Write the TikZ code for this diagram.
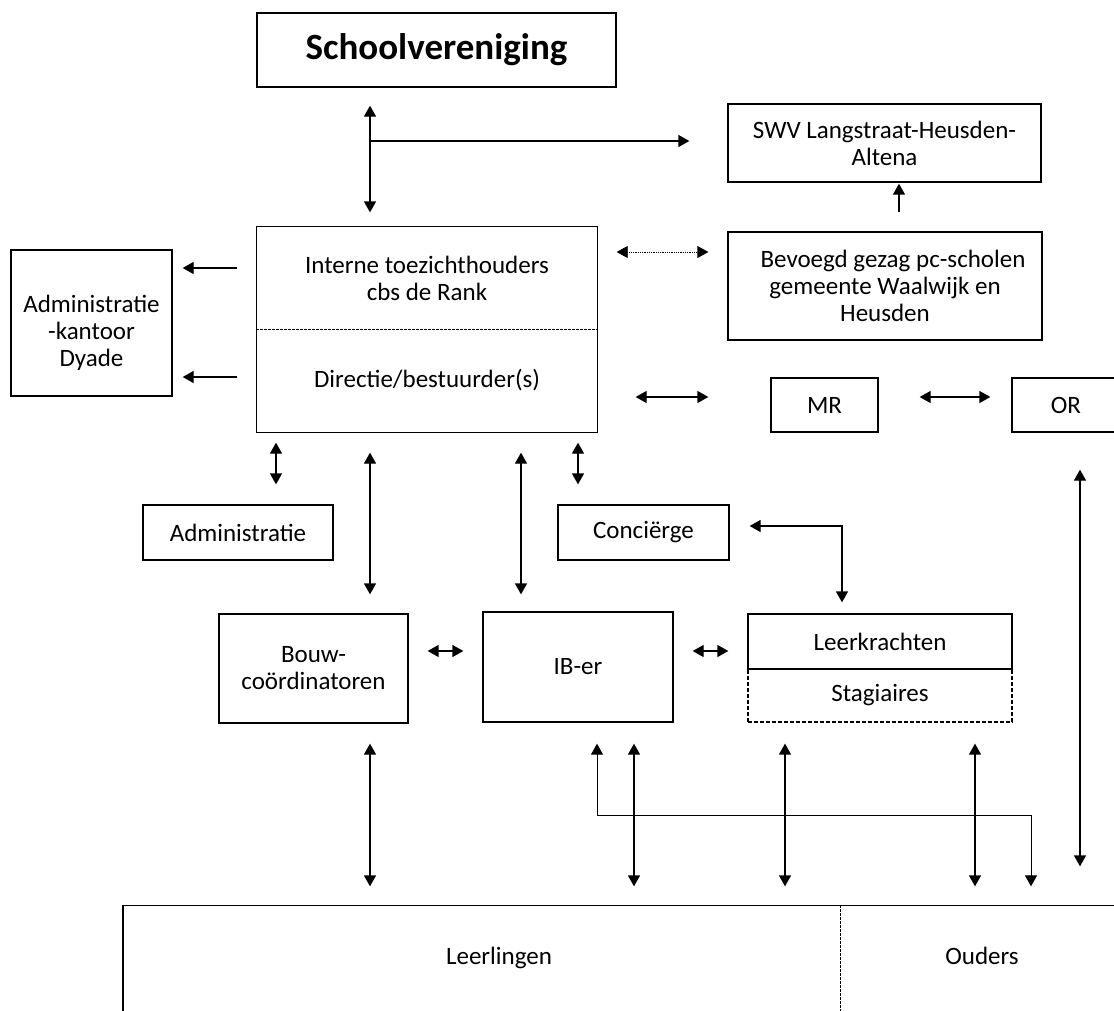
\documentclass[tikz,border=0pt]{standalone}
\usepackage{fontspec}
\setmainfont{Carlito}
\usetikzlibrary{arrows.meta,calc}

\tikzset{
  box/.style={draw, line width=1.3pt, align=center, inner sep=0pt,
    font=\fontsize{25}{27}\selectfont},
  plain/.style={box, draw=none},
  arr/.style={-{Triangle[length=11pt,width=12pt]}, line width=1.3pt},
  darr/.style={{Triangle[length=11pt,width=12pt]}-{Triangle[length=11pt,width=12pt]}, line width=1.3pt},
  fine/.style={line width=0.8pt, dash pattern=on 2.5pt off 1.5pt}
}

\begin{document}
\begin{tikzpicture}[x=1pt, y=-1pt]
    \path[use as bounding box] (0,0) rectangle (1114,1010);
    \clip (0,0) rectangle (1114,1010);

    % top row
    \node[box, minimum width=359pt, minimum height=74pt,
          font=\fontsize{37}{44}\selectfont\bfseries] (school) at (436.5,50) {Schoolvereniging};
    \node[box, minimum width=313pt, minimum height=78pt] (swv) at (884.5,143) {SWV Langstraat-Heusden-\\Altena};
    \node[box, minimum width=314pt, minimum height=108pt] (bevoegd) at (885,286)
        {\hspace*{16pt}Bevoegd gezag pc-scholen\\gemeente Waalwijk en\\Heusden};

    % toezicht en directie
    \node[plain, minimum width=340pt, minimum height=102pt] (toezicht) at (427,278) {Interne toezichthouders\\cbs de Rank};
    \node[plain, minimum width=340pt, minimum height=103pt] (directie) at (427,380.5) {Directie/bestuurder(s)};
    \draw[line width=1.3pt] (toezicht.north west) rectangle (directie.south east);
    \draw[fine] (toezicht.south west) -- (toezicht.south east);

    \node[box, minimum width=161pt, minimum height=146pt] (kantoor) at (91.5,323) {};
    \node[plain] (kantoortxt) at (91.5,333) {Administratie\\-kantoor\\Dyade};
    \node[box, minimum width=107pt, minimum height=54pt] (mr) at (824.5,405) {MR};
    \node[box, minimum width=108pt, minimum height=54pt] (orraad) at (1066,405) {OR};

    % middle rows
    \node[box, minimum width=190pt, minimum height=55pt] (admin) at (238,532.5) {Administratie};
    \node[box, minimum width=171pt, minimum height=55pt] (conc) at (643.5,532.5) {Conciërge};
    \node[box, minimum width=189pt, minimum height=109pt] (bouw) at (313.5,668.5) {Bouw-\\coördinatoren};
    \node[box, minimum width=190pt, minimum height=110pt] (iber) at (578,667) {IB-er};
    \node[box, dash pattern=on 4pt off 2pt, line width=1.2pt, minimum width=264pt, minimum height=53pt] (stag) at (880,695.5) {Stagiaires};
    \node[box, minimum width=264pt, minimum height=55pt] (leer) at (880,641.5) {Leerkrachten};

    % leerlingen en ouders
    \node[plain, minimum height=106pt, text height=17pt, text depth=6pt] (leerl) at (499,959) {Leerlingen};
    \node[plain, minimum height=106pt, text height=17pt, text depth=6pt] (ouders) at (982,959) {Ouders};
    \draw[line width=1.3pt] (leerl.south -| 123,0) -- (leerl.north -| 123,0) -- (ouders.north -| 1114,0);
    \draw[fine] (ouders.north -| 840,0) -- (ouders.south -| 840,0);

    % connectors top
    \coordinate (split) at (370,141);
    \draw[darr, shorten <=18pt, shorten >=14pt] (school.south -| split) -- (toezicht.north -| split);
    \draw[arr, shorten >=38pt] (split) -- (split -| swv.west);
    \draw[arr, shorten <=19pt, shorten >=1pt] (bevoegd.north -| 899,0) -- (swv.south -| 899,0);
    \draw[darr, line width=0.8pt, densely dotted, shorten <=19pt, shorten >=19pt]
        (toezicht.east |- 0,252) -- (bevoegd.west |- 0,252);
    \draw[arr, shorten <=19pt, shorten >=10pt] (toezicht.west |- 0,268) -- (kantoor.east |- 0,268);
    \draw[arr, shorten <=19pt, shorten >=10pt] (directie.west |- 0,377) -- (kantoor.east |- 0,377);
    \draw[darr, shorten <=38pt, shorten >=62pt] (directie.east |- 0,397) -- (mr.west |- 0,397);
    \draw[darr, shorten <=41pt, shorten >=21pt] (mr.east |- 0,397) -- (orraad.west |- 0,397);

    % connectors middle
    \draw[darr, shorten <=10pt, shorten >=20pt] (directie.south -| 276,0) -- (admin.north -| 276,0);
    \draw[darr, shorten <=10pt, shorten >=20pt] (directie.south -| 578,0) -- (conc.north -| 578,0);
    \draw[darr, shorten <=20pt, shorten >=19pt] (directie.south -| 370,0) -- (bouw.north -| 370,0);
    \draw[darr, shorten <=20pt, shorten >=17pt] (directie.south -| 521,0) -- (iber.north -| 521,0);
    \draw[darr, shorten <=11pt, shorten >=20pt] (leer.north -| 842,0) |- (conc.east |- 0,526);
    \draw[darr, shorten <=19pt, shorten >=19pt] (bouw.east |- 0,651) -- (iber.west |- 0,651);
    \draw[darr, shorten <=19pt, shorten >=19pt] (iber.east |- 0,651) -- (leer.west |- 0,651);
    \draw[darr, shorten <=37pt, shorten >=39pt] (orraad.south -| 1080,0) -- (ouders.north -| 1080,0);

    % connectors bottom
    \draw[darr, shorten <=20pt, shorten >=19pt] (bouw.south -| 370,0) -- (leerl.north -| 370,0);
    \draw[darr, shorten <=21pt, shorten >=19pt] (iber.south -| 634,0) -- (leerl.north -| 634,0);
    \draw[darr, shorten <=21pt, shorten >=19pt] (stag.south -| 785,0) -- (leerl.north -| 785,0);
    \draw[darr, shorten <=21pt, shorten >=19pt] (stag.south -| 975,0) -- (ouders.north -| 975,0);
    \draw[darr, line width=1pt, shorten <=21pt, shorten >=19pt] (iber.south -| 597,0) |- (1031,815) -- (ouders.north -| 1031,0);
\end{tikzpicture}
\end{document}
